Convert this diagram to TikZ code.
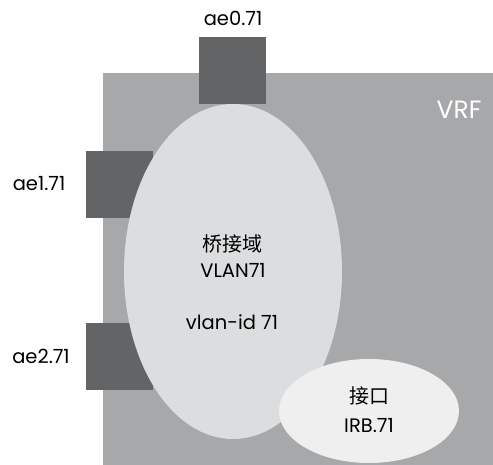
\documentclass[tikz,border=0pt]{standalone}
\usepackage{fontspec}
\setmainfont{Poppins}
\newfontfamily\cjk{Noto Sans CJK SC}
\usetikzlibrary{shapes.geometric}
\definecolor{vrfgrey}{HTML}{A7A8AA}
\definecolor{portgrey}{HTML}{636466}
\definecolor{bdgrey}{HTML}{DCDDDF}
\definecolor{irbgrey}{HTML}{EFEFEF}
\begin{document}
\begin{tikzpicture}[x=1pt,y=1pt,
  lbl/.style={font=\fontsize{19.5}{23}\selectfont, text=black, align=center, inner sep=0pt},
  cjklbl/.style={font=\cjk\fontsize{20}{23}\selectfont, text=black, align=center, inner sep=0pt},
  port/.style={fill=portgrey, draw=none, minimum width=67pt, minimum height=67pt, inner sep=0pt, rectangle}]
\useasboundingbox (0,0) rectangle (493,465);
\fill[vrfgrey] (103,0) rectangle (493,392);
\node[lbl, text=white, font=\fontsize{25}{28}\selectfont] (vrf) at (459,355) {VRF};
\node[port] (ae0) at (232.5,394.5) {};
\node[port] (ae1) at (119.5,280.5) {};
\node[port] (ae2) at (119.5,108.5) {};
\node[ellipse, fill=bdgrey, draw=none, minimum width=218pt, minimum height=335pt, inner sep=0pt] (bd) at (233,193.5) {};
\node[ellipse, fill=irbgrey, draw=none, minimum width=180pt, minimum height=104pt, inner sep=0pt] (irb) at (369,54) {};
\node[lbl] (ae0l) at (233,447) {ae0.71};
\node[lbl] (ae1l) at (39,281) {ae1.71};
\node[lbl] (ae2l) at (41,109) {ae2.71};
\node[cjklbl] (bdl) at (232,221) {桥接域};
\node[lbl] (vlan) at (233,195) {VLAN71};
\node[lbl] (vid) at (232,143) {vlan-id 71};
\node[cjklbl] (irbl) at (369,69) {接口};
\node[lbl] (irbn) at (369,39) {IRB.71};
\end{tikzpicture}
\end{document}
